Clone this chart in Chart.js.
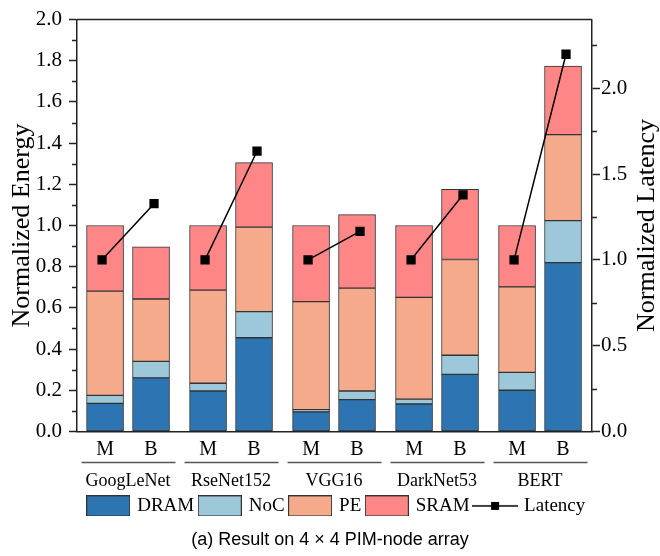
<!DOCTYPE html>
<html>
<head>
<meta charset="utf-8">
<script src="https://cdn.jsdelivr.net/npm/chart.js@4.4.1/dist/chart.umd.min.js"></script>
<style>
  html, body { margin: 0; padding: 0; background: #fff; }
  #wrap { width: 660px; height: 556px; }
</style>
</head>
<body>
<div id="wrap"><canvas id="energyChart"></canvas></div>
<script>
const GROUPS = ['GoogLeNet', 'RseNet152', 'VGG16', 'DarkNet53', 'BERT'];
const VARIANTS = ['M', 'B'];

// one value per bar: GoogLeNet M, GoogLeNet B, RseNet152 M, ...
const DRAM = [0.136, 0.26, 0.196, 0.455, 0.095, 0.154, 0.133, 0.277, 0.2, 0.82];
const NOC = [0.039, 0.08, 0.038, 0.127, 0.011, 0.042, 0.024, 0.093, 0.087, 0.204];
const PE = [0.506, 0.303, 0.452, 0.41, 0.524, 0.5, 0.494, 0.465, 0.415, 0.417];
const SRAM = [0.319, 0.253, 0.314, 0.313, 0.37, 0.357, 0.349, 0.341, 0.298, 0.333];
const LATENCY = [1.0, 1.327, 1.0, 1.633, 1.0, 1.166, 1.0, 1.379, 1.0, 2.198];

const COLORS = {
    DRAM: '#2c74b2',
    NoC: '#9dc8da',
    PE: '#f5aa8b',
    SRAM: '#fe8686'
};

const SERIF = "'Liberation Serif', 'Times New Roman', serif";
const AXIS_COLOR = '#222';
const GROUP_STEP = 2.24;
const BAR_WIDTH = 37;
const LINE_SHIFT = 0.065; // latency markers sit a little outside the bar centres

function barPos(i) {
    return Math.floor(i / 2) * GROUP_STEP + (i % 2);
}

const BAR_POS = DRAM.map((v, i) => barPos(i));
const GROUP_POS = GROUPS.map((g, i) => i * GROUP_STEP + 0.5);

function barData(values) {
    return values.map((v, i) => ({ x: BAR_POS[i], y: v }));
}

function latencyData() {
    var pts = [];
    LATENCY.forEach((v, i) => {
        var shift = i % 2 === 0 ? -LINE_SHIFT : LINE_SHIFT;
        pts.push({ x: BAR_POS[i] + shift, y: v });
        if (i % 2 === 1) {
            pts.push({ x: BAR_POS[i] + 0.5, y: null });
        }
    });
    return pts;
}

function createBarSet(label, values) {
    return {
        type: 'bar',
        label,
        data: barData(values),
        backgroundColor: COLORS[label],
        borderColor: '#333',
        borderWidth: 1,
        borderSkipped: false,
        barThickness: BAR_WIDTH,
        yAxisID: 'y',
        order: 1
    };
}

function legendIcon(ds) {
    var c = document.createElement('canvas');
    var ctx = c.getContext('2d');
    if (ds.type === 'line') {
        c.width = 46;
        c.height = 20;
        ctx.strokeStyle = '#000';
        ctx.lineWidth = 1.5;
        ctx.beginPath();
        ctx.moveTo(0, 10);
        ctx.lineTo(46, 10);
        ctx.stroke();
        ctx.fillStyle = '#000';
        ctx.fillRect(19, 6, 8, 8);
    } else {
        c.width = 44;
        c.height = 21;
        ctx.fillStyle = ds.backgroundColor;
        ctx.fillRect(0.5, 0.5, 43, 20);
        ctx.strokeStyle = '#333';
        ctx.lineWidth = 1;
        ctx.strokeRect(0.5, 0.5, 43, 20);
    }
    return c;
}

// minor ticks, top frame line, group underlines and the right title
const decorPlugin = {
    id: 'decor',
    afterLayout(chart) {
        if (chart.legend) {
            chart.legend.left += 14;
        }
    },
    afterDraw(chart) {
        var ctx = chart.ctx;
        var area = chart.chartArea;
        var x = chart.scales.x;
        var y = chart.scales.y;
        var y1 = chart.scales.y1;
        ctx.save();
        ctx.strokeStyle = AXIS_COLOR;
        ctx.lineWidth = 1.5;
        ctx.beginPath();
        ctx.moveTo(area.left, area.top);
        ctx.lineTo(area.right, area.top);
        for (var v = 0.1; v < 2.0; v += 0.2) {
            var py = Math.round(y.getPixelForValue(v)) + 0.5;
            ctx.moveTo(area.left - 5, py);
            ctx.lineTo(area.left, py);
        }
        for (var w = 0.25; w < 2.4; w += 0.5) {
            var qy = Math.round(y1.getPixelForValue(w)) + 0.5;
            ctx.moveTo(area.right, qy);
            ctx.lineTo(area.right + 5, qy);
        }
        ctx.stroke();

        ctx.strokeStyle = '#555';
        ctx.beginPath();
        GROUPS.forEach((g, i) => {
            var l = x.getPixelForValue(BAR_POS[2 * i]) - BAR_WIDTH / 2 - 5;
            var r = x.getPixelForValue(BAR_POS[2 * i + 1]) + BAR_WIDTH / 2 + 6;
            ctx.moveTo(l, x.bottom);
            ctx.lineTo(r, x.bottom);
        });
        ctx.stroke();

        ctx.fillStyle = '#000';
        ctx.font = '26px ' + SERIF;
        ctx.textAlign = 'center';
        ctx.textBaseline = 'middle';
        ctx.translate(chart.width - 13, (area.top + area.bottom) / 2);
        ctx.rotate(-Math.PI / 2);
        ctx.fillText('Normalized Latency', 0, 0);
        ctx.restore();
    }
};

var datasets = [
    createBarSet('DRAM', DRAM),
    createBarSet('NoC', NOC),
    createBarSet('PE', PE),
    createBarSet('SRAM', SRAM),
    {
        type: 'line',
        label: 'Latency',
        data: latencyData(),
        borderColor: '#000',
        backgroundColor: '#000',
        borderWidth: 1.5,
        pointStyle: 'rect',
        pointRadius: 5.5,
        pointHoverRadius: 5.5,
        spanGaps: false,
        yAxisID: 'y1',
        order: 0
    }
];

var xRange = {
    min: BAR_POS[0] - 0.61,
    max: BAR_POS[BAR_POS.length - 1] + 0.63
};

var config = {
    type: 'bar',
    data: { datasets: datasets },
    plugins: [decorPlugin],
    options: {
        responsive: false,
        animation: false,
        layout: {
            padding: { top: 17, bottom: 3, left: 0, right: 0 }
        },
        plugins: {
            legend: {
                position: 'bottom',
                labels: {
                    usePointStyle: true,
                    pointStyleWidth: 39,
                    boxHeight: 20,
                    padding: 6,
                    color: '#000',
                    font: { family: SERIF, size: 19 },
                    generateLabels: chart => chart.data.datasets.map((ds, i) => ({
                        text: ds.label,
                        pointStyle: legendIcon(ds),
                        datasetIndex: i,
                        hidden: false,
                        fontColor: '#000',
                        lineWidth: 0
                    }))
                }
            },
            title: {
                display: true,
                position: 'bottom',
                text: '(a) Result on 4 \u00d7 4 PIM-node array',
                color: '#000',
                font: { family: "'Liberation Sans', Arial, sans-serif", size: 18, weight: 'normal' },
                padding: { top: 4, bottom: 2 }
            },
            tooltip: { enabled: false }
        },
        scales: {
            x: {
                type: 'linear',
                position: 'bottom',
                stacked: true,
                min: xRange.min,
                max: xRange.max,
                offset: false,
                afterBuildTicks: scale => {
                    scale.ticks = BAR_POS.map(v => ({ value: v }));
                },
                afterFit: scale => { scale.height = 31; },
                ticks: {
                    autoSkip: false,
                    maxRotation: 0,
                    padding: 6,
                    color: '#000',
                    font: { family: SERIF, size: 20 },
                    callback: (v, i) => VARIANTS[i % 2]
                },
                grid: { display: false, drawTicks: false },
                border: { display: true, color: AXIS_COLOR, width: 1.5 }
            },
            x2: {
                type: 'linear',
                position: 'bottom',
                min: xRange.min,
                max: xRange.max,
                offset: false,
                afterBuildTicks: scale => {
                    scale.ticks = GROUP_POS.map(v => ({ value: v }));
                },
                afterFit: scale => { scale.height = 28; },
                ticks: {
                    autoSkip: false,
                    maxRotation: 0,
                    padding: 8,
                    color: '#000',
                    font: { family: SERIF, size: 18 },
                    callback: (v, i) => GROUPS[i]
                },
                grid: { display: false, drawTicks: false },
                border: { display: false }
            },
            y: {
                position: 'left',
                stacked: true,
                min: 0,
                max: 2.0,
                afterFit: scale => { scale.width = 77; },
                ticks: {
                    stepSize: 0.2,
                    padding: 7,
                    color: '#000',
                    font: { family: SERIF, size: 21 },
                    callback: v => v.toFixed(1)
                },
                title: {
                    display: true,
                    text: 'Normalized Energy',
                    color: '#000',
                    font: { family: SERIF, size: 26, lineHeight: 1 },
                    padding: { top: 9, bottom: 0 }
                },
                grid: {
                    drawOnChartArea: false,
                    tickLength: 8,
                    tickColor: AXIS_COLOR,
                    tickWidth: 1.5
                },
                border: { color: AXIS_COLOR, width: 1.5 }
            },
            y1: {
                position: 'right',
                min: 0,
                max: 2.4,
                afterFit: scale => { scale.width = 68; },
                ticks: {
                    stepSize: 0.5,
                    includeBounds: false,
                    padding: 1,
                    color: '#000',
                    font: { family: SERIF, size: 21 },
                    callback: v => v.toFixed(1)
                },
                grid: {
                    drawOnChartArea: false,
                    tickLength: 8,
                    tickColor: AXIS_COLOR,
                    tickWidth: 1.5
                },
                border: { color: AXIS_COLOR, width: 1.5 }
            }
        }
    }
};

var canvas = document.getElementById('energyChart');
canvas.width = 660;
canvas.height = 556;
new Chart(canvas.getContext('2d'), config);
</script>
</body>
</html>
